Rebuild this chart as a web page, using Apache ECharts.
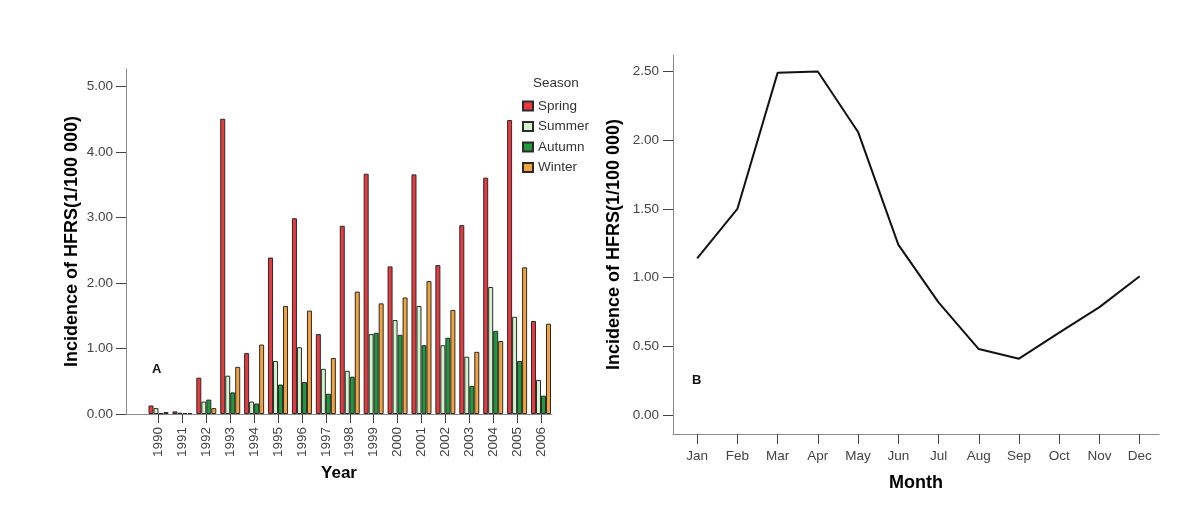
<!DOCTYPE html>
<html><head><meta charset="utf-8">
<script src="https://cdn.jsdelivr.net/npm/echarts@6/dist/echarts.min.js"></script>
<style>html,body{margin:0;padding:0;background:#fff}#c{width:1200px;height:526px}</style>
</head><body><div id="c"></div>
<script>
// ---- Panel A: yearly incidence by season ----
const years = ['1990','1991','1992','1993','1994','1995','1996','1997','1998','1999','2000','2001','2002','2003','2004','2005','2006'];
const spring = [0.13,0.04,0.555,4.51,0.93,2.39,2.99,1.22,2.875,3.67,2.255,3.66,2.275,2.885,3.61,4.49,1.42];
const summer = [0.09,0.02,0.19,0.585,0.19,0.81,1.02,0.69,0.66,1.22,1.435,1.65,1.05,0.875,1.94,1.485,0.52];
const autumn = [0.01,0.015,0.22,0.33,0.16,0.45,0.49,0.31,0.57,1.24,1.21,1.05,1.165,0.43,1.27,0.81,0.28];
const winter = [0.03,0.015,0.09,0.72,1.06,1.65,1.58,0.855,1.87,1.69,1.78,2.03,1.59,0.95,1.115,2.24,1.38];
const seasons = ['Spring','Summer','Autumn','Winter'];
const yTicksA = [0,1,2,3,4,5];

// ---- Panel B: monthly incidence ----
const months = ['Jan','Feb','Mar','Apr','May','Jun','Jul','Aug','Sep','Oct','Nov','Dec'];
const monthly = [1.14,1.50,2.49,2.50,2.06,1.24,0.82,0.48,0.41,0.60,0.785,1.01];
const yTicksB = [0,0.5,1,1.5,2,2.5];

const seasonData = [spring, summer, autumn, winter];
const seasonColors = ['#e8393e','#d3f3cc','#1f9a3c','#f4a23c'];
const FONT = 'Liberation Sans, Arial, sans-serif';
const tickColor = '#444';
const lineColor = '#8a8a8a';

const chart = echarts.init(document.getElementById('c'), null, {renderer:'canvas'});

const idxA = years.map((_, i) => i);
const idxB = months.map((_, i) => i);

const option = {
  animation: false,
  backgroundColor: '#fff',
  textStyle: {fontFamily: FONT},
  grid: [
    {left: 126, top: 69, width: 426, height: 345},
    {left: 673, top: 55, width: 486, height: 379}
  ],
  legend: {
    orient: 'vertical', left: 517, top: 94,
    itemWidth: 10, itemHeight: 9, itemGap: 6.5, icon: 'rect',
    data: seasons,
    textStyle: {fontSize: 13.5, color: '#333', fontFamily: FONT}
  },
  graphic: [
    {type:'text', left: 533, top: 76, style:{text:'Season', fontSize:13.5, fill:'#333', fontFamily: FONT}},
    {type:'text', left: 152, top: 363, style:{text:'A', fontSize:13, fontWeight:'bold', fill:'#111', fontFamily: FONT}},
    {type:'text', left: 692, top: 374, style:{text:'B', fontSize:13, fontWeight:'bold', fill:'#111', fontFamily: FONT}}
  ],
  xAxis: [
    {
      gridIndex: 0, type: 'value', min: -1.36, max: 16.46,
      name: 'Year', nameLocation: 'middle', nameGap: 51,
      nameTextStyle: {fontSize: 17, fontWeight: 'bold', color: '#000'},
      axisLine: {onZero: false, lineStyle: {color: lineColor, width: 1}},
      axisTick: {show: true, length: 9, customValues: idxA, lineStyle: {color: tickColor}},
      axisLabel: {customValues: idxA, rotate: 90, margin: 13, fontSize: 13.5, color: tickColor,
                  formatter: v => years[Math.round(v)] || ''},
      splitLine: {show: false}
    },
    {
      gridIndex: 1, type: 'value', min: -0.6, max: 11.48,
      name: 'Month', nameLocation: 'middle', nameGap: 40,
      nameTextStyle: {fontSize: 18, fontWeight: 'bold', color: '#000'},
      axisLine: {onZero: false, lineStyle: {color: lineColor, width: 1}},
      axisTick: {show: true, length: 10, customValues: idxB, lineStyle: {color: tickColor}},
      axisLabel: {customValues: idxB, margin: 15, fontSize: 13.5, color: tickColor,
                  formatter: v => months[Math.round(v)] || ''},
      splitLine: {show: false}
    }
  ],
  yAxis: [
    {
      gridIndex: 0, type: 'value', min: 0, max: 5.27,
      name: 'Incidence of HFRS(1/100 000)', nameLocation: 'middle', nameGap: 45,
      nameTextStyle: {fontSize: 18, fontWeight: 'bold', color: '#000'},
      axisLine: {show: true, onZero: false, lineStyle: {color: lineColor, width: 1}},
      axisTick: {show: true, length: 10, customValues: yTicksA, lineStyle: {color: tickColor}},
      axisLabel: {customValues: yTicksA, margin: 13, fontSize: 13.5, color: tickColor,
                  formatter: v => v.toFixed(2)},
      splitLine: {show: false}
    },
    {
      gridIndex: 1, type: 'value', min: -0.138, max: 2.62,
      name: 'Incidence of HFRS(1/100 000)', nameLocation: 'middle', nameGap: 50,
      nameTextStyle: {fontSize: 18, fontWeight: 'bold', color: '#000'},
      axisLine: {show: true, onZero: false, lineStyle: {color: lineColor, width: 1}},
      axisTick: {show: true, length: 10, customValues: yTicksB, lineStyle: {color: tickColor}},
      axisLabel: {customValues: yTicksB, margin: 14, fontSize: 13.5, color: tickColor,
                  formatter: v => v.toFixed(2)},
      splitLine: {show: false}
    }
  ],
  series: seasons.map((s, k) => ({
    name: s, type: 'bar', xAxisIndex: 0, yAxisIndex: 0,
    barWidth: 5, barGap: '0%',
    itemStyle: {color: seasonColors[k], borderColor: '#2a2a2a', borderWidth: 1},
    data: seasonData[k].map((v, i) => [i, v])
  })).concat([{
    name: 'Monthly', type: 'line', xAxisIndex: 1, yAxisIndex: 1,
    symbol: 'none', lineStyle: {color: '#111', width: 2},
    data: monthly.map((v, i) => [i, v])
  }])
};
chart.setOption(option);
</script>
</body></html>
